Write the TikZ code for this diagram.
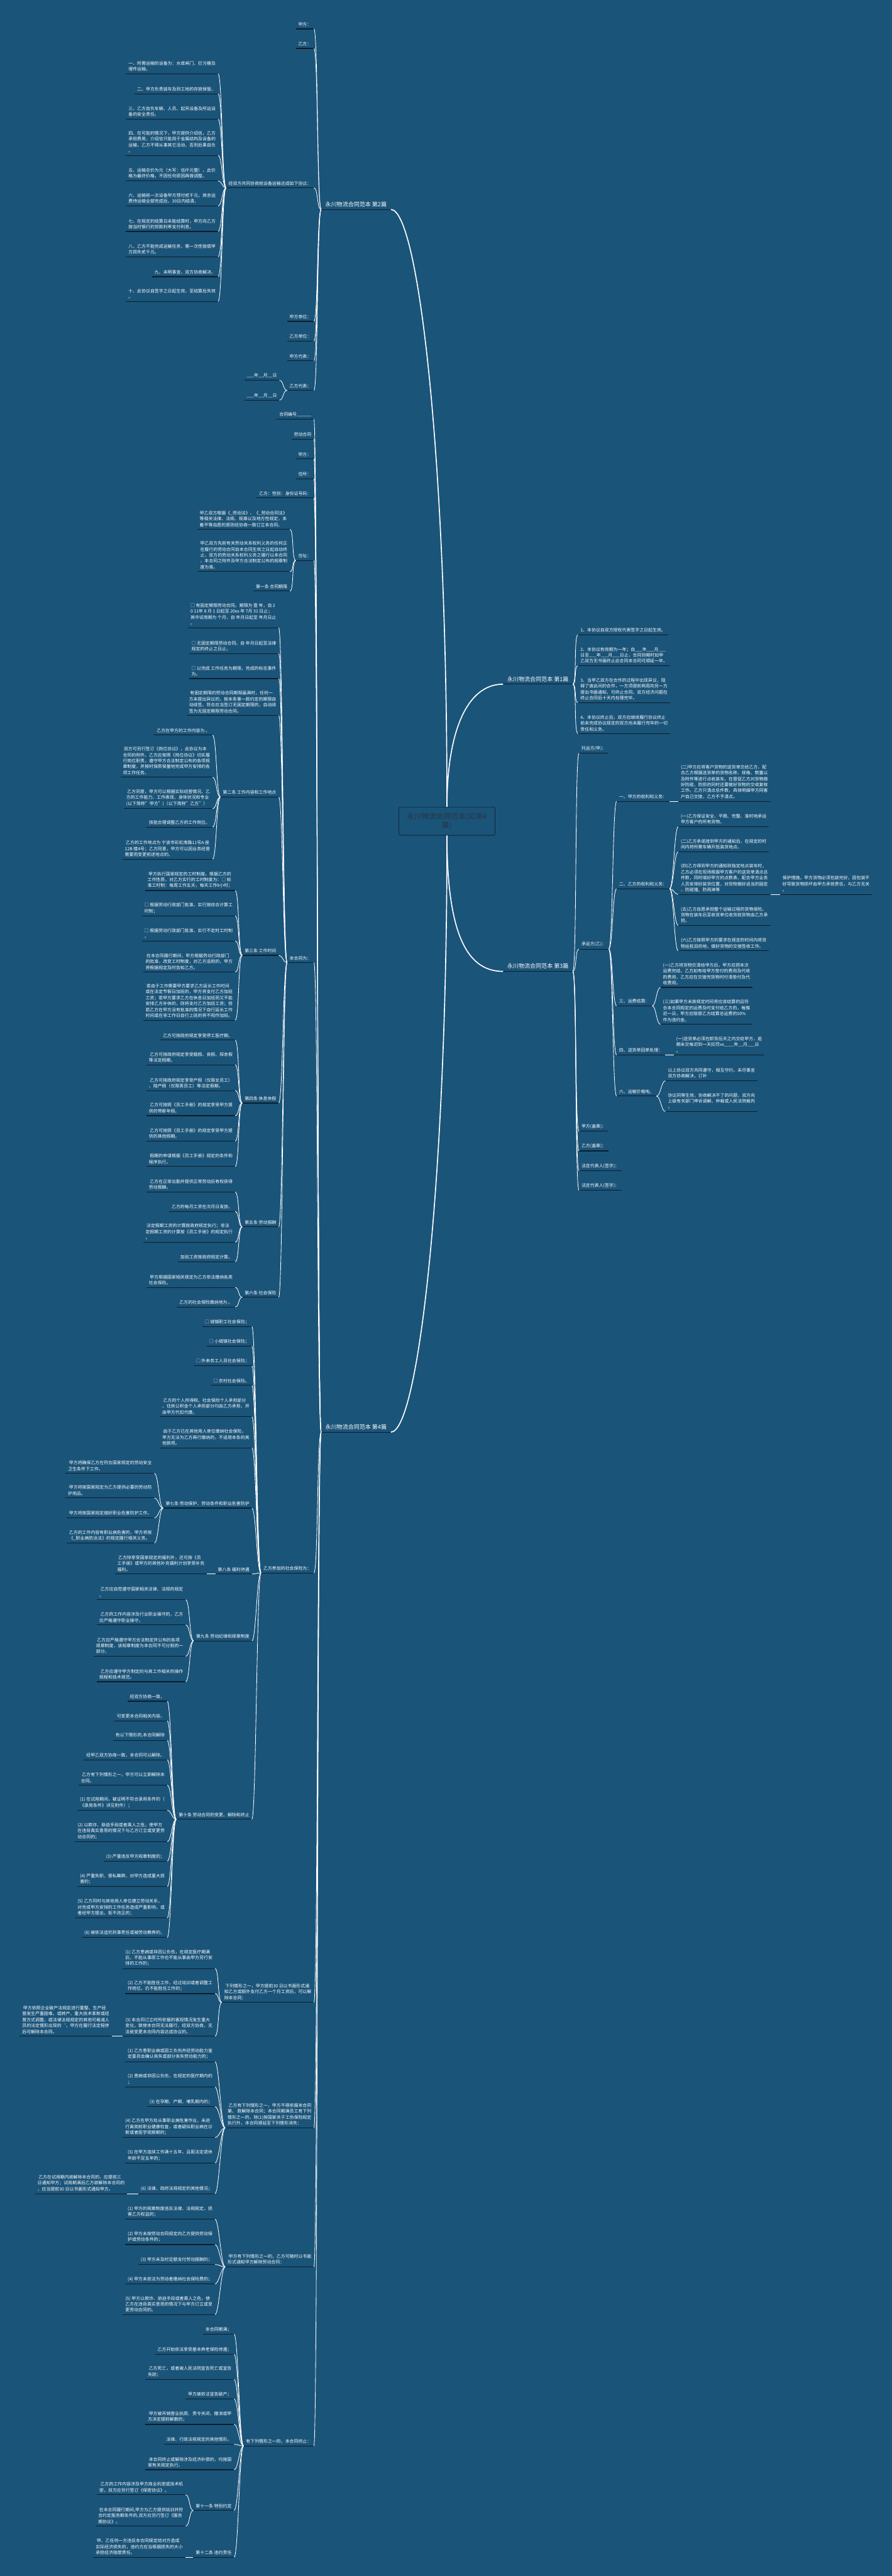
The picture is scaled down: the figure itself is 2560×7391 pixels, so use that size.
\documentclass[tikz,border=0pt]{standalone}
\usepackage{fontspec}
\setmainfont{Noto Sans CJK SC}
\definecolor{bg}{RGB}{27,84,121}
\definecolor{ulc}{RGB}{10,30,44}
\definecolor{roottext}{RGB}{40,52,64}
\definecolor{rootborder}{RGB}{12,38,58}
\tikzset{
  uline/.style={draw=ulc, line width=2pt},
  base/.style={text=white, font=\fontsize{12.5pt}{17pt}\selectfont, align=left, inner xsep=7pt, inner ysep=7pt,
    append after command={(\tikzlastnode.south west) edge[uline] (\tikzlastnode.south east)}},
  L/.style={base, anchor=south east},
  R/.style={base, anchor=south west},
  headL/.style={L, font=\fontsize{16.3pt}{20pt}\selectfont, inner xsep=12pt},
  headR/.style={R, font=\fontsize{16.3pt}{20pt}\selectfont, inner xsep=12pt},
  conn/.style={draw=white, line width=1.5pt},
  trunk/.style={draw=white, line width=3pt},
  rootbox/.style={draw=rootborder, line width=1.5pt, fill=bg, rounded corners=5pt, minimum width=276pt, minimum height=81pt, text=roottext, font=\fontsize{21pt}{26pt}\selectfont, align=center, inner sep=2pt}
}
\newcommand\lconn[2]{\draw[conn] (#1.south west) .. controls +(-12,0) and +(12,0) .. (#2.south east);}
\newcommand\rconn[2]{\draw[conn] (#1.south east) .. controls +(12,0) and +(-12,0) .. (#2.south west);}
\begin{document}
\begin{tikzpicture}[x=1pt,y=-1pt]
\fill[bg] (0,0) rectangle (2560,7391);
\useasboundingbox (0,0) rectangle (2560,7391);

% root
\node[rootbox] (root) at (1283,2356) {永川物流合同范本(实用4\\篇)};

% headings
\node[headL] (h2) at (1122,601) {永川物流合同范本 第2篇};
\node[headL] (h4) at (1122,4109) {永川物流合同范本 第4篇};
\node[headR] (h1) at (1444,1963) {永川物流合同范本 第1篇};
\node[headR] (h3) at (1444,2787) {永川物流合同范本 第3篇};

\draw[trunk] (root.north) .. controls (1283,1300) and (1200,601) .. (h2.south east);
\draw[trunk] (root.north) .. controls (1283,2100) and (1340,1963) .. (h1.south west);
\draw[trunk] (root.south) .. controls (1283,2700) and (1350,2787) .. (h3.south west);
\draw[trunk] (root.south) .. controls (1283,3400) and (1200,4109) .. (h4.south east);

% ===== 第2篇 =====
\node[L] (a1) at (901,83) {甲方：};
\node[L] (a2) at (901,139) {乙方：};
\node[L] (a3) at (901,539) {经双方共同协商就设备运输达成如下协议：};
\node[L] (a4) at (901,922) {甲方单位：};
\node[L] (a5) at (901,979) {乙方单位：};
\node[L] (a6) at (901,1035) {甲方代表：};
\node[L] (a7) at (901,1120) {乙方代表：};
\foreach \c in {a1,a2,a3,a4,a5,a6,a7}{\lconn{h2}{\c}}

\node[L] (a3a) at (626,212) {一、所需运输的设备为：水库闸门、拦污栅及\\埋件运输。};
\node[L] (a3b) at (626,269) {二、甲方负责装车及到工地的存放保管。};
\node[L] (a3c) at (626,342) {三、乙方自负车辆、人员、起吊设备及所运设\\备的安全责任。};
\node[L] (a3d) at (626,446) {四、在可能的情况下，甲方提供介绍信，乙方\\承担费用，介绍信只能用于金属结构及设备的\\运输，乙方不得从事其它活动，否则后果自负\\。};
\node[L] (a3e) at (626,519) {五、运输总价为元（大写：伍仟元整），此价\\格为最终价格，不因任何原因再做调整。};
\node[L] (a3f) at (626,591) {六、运输前一次设备甲方预付贰千元，其余运\\费待运输全部完成后，30日内结清。};
\node[L] (a3g) at (626,664) {七、在规定的结算日未能结算时，甲方向乙方\\按当时银行的贷款利率支付利息。};
\node[L] (a3h) at (626,737) {八、乙方不能完成运输任务，需一次性赔偿甲\\方损失贰千元。};
\node[L] (a3i) at (626,794) {九、未明事宜，双方协商解决。};
\node[L] (a3j) at (626,865) {十、此协议自签字之日起生效，至结算后失效\\。};
\foreach \c in {a3a,a3b,a3c,a3d,a3e,a3f,a3g,a3h,a3i,a3j}{\lconn{a3}{\c}}

\node[L] (a7a) at (802,1091) {\_\_\_年\_\_月\_\_日};
\node[L] (a7b) at (802,1148) {\_\_\_年\_\_月\_\_日};
\foreach \c in {a7a,a7b}{\lconn{a7}{\c}}

% ===== 第4篇 =====
\node[L] (b1) at (901,1203) {合同编号\_\_\_\_\_\_};
\node[L] (b2) at (901,1260) {劳动合同};
\node[L] (b3) at (901,1317) {甲方：};
\node[L] (b4) at (901,1374) {住所：};
\node[L] (b5) at (901,1429) {乙方：性别：身份证号码：};
\node[L] (b6) at (901,1608) {住址：};
\node[L] (b7) at (901,2762) {本合同为：};
\node[L] (b8) at (901,4513) {乙方参加的社会保险为：};
\node[L] (b9) at (901,5745) {~下列情形之一，甲方提前30 日以书面形式通\\知乙方或额外支付乙方一个月工资后，可以解\\除本合同：};
\node[L] (b10) at (901,6105) {~乙方有下列情形之一，甲方不得依据本合同\\第、 款解除本合同；本合同期满员工有下列\\情形之一的，除(1)按国家关于工伤保险规定\\执行外，本合同顺延至下列情形消失：};
\node[L] (b11) at (901,6504) {~甲方有下列情形之一的，乙方可随时以书面\\形式通知甲方解除劳动合同：};
\node[L] (b12) at (901,7018) {有下列情形之一的，本合同终止：};
\foreach \c in {b1,b2,b3,b4,b5,b6,b7,b8,b9,b10,b11,b12}{\lconn{h4}{\c}}

% 住址
\node[L] (b6a) at (832,1519) {甲乙双方根据《\_劳动法》、《\_劳动合同法》\\等相关法律、法规、规章以及地方性规定，本\\着平等自愿的原则经协商一致订立本合同。};
\node[L] (b6b) at (832,1640) {甲乙双方先前有关劳动关系权利义务的任何正\\在履行的劳动合同自本合同生效之日起自动终\\止，双方的劳动关系权利义务之履行以本合同\\、本合同之附件及甲方合法制定公布的规章制\\度为准。};
\node[L] (b6c) at (832,1696) {第一条 合同期限};
\foreach \c in {b6a,b6b,b6c}{\lconn{b6}{\c}}

% 本合同为
\node[L] (b7a) at (800,1801) {□ 有固定期限劳动合同。期限为 壹 年，自 2\\0 11年 8 月 1 日起至 20xx 年 7月 31 日止；\\其中试用期为 个月，自 年月日起至 年月日止\\。};
\node[L] (b7b) at (800,1875) {□ 无固定期限劳动合同。自 年月日起至法律\\规定的终止之日止。};
\node[L] (b7c) at (800,1947) {□ 以完成 工作任务为期限，完成的标志事件\\为。};
\node[L] (b7d) at (800,2053) {~有固定期限的劳动合同期限届满时，任何一\\方未提出异议的，按本条第一款约定的期限自\\动续签。符合应当签订无固定期限的，自动续\\签为无固定期限劳动合同。};
\node[L] (b7e) at (800,2287) {第二条 工作内容和工作地点};
\node[L] (b7f) at (800,2741) {第三条 工作时间};
\node[L] (b7g) at (800,3165) {第四条 休息休假};
\node[L] (b7h) at (800,3520) {第五条 劳动报酬};
\node[L] (b7i) at (800,3722) {第六条 社会保险};
\foreach \c in {b7a,b7b,b7c,b7d,b7e,b7f,b7g,b7h,b7i}{\lconn{b7}{\c}}

\node[L] (e1) at (610,2109) {乙方在甲方的工作内容为 。};
\node[L] (e2) at (610,2230) {~双方可另行签订《岗位协议》，此协议为本\\合同的附件。乙方应按照《岗位协议》切实履\\行岗位职责，遵守甲方合法制定公布的各项规\\章制度，并按时保质保量地完成甲方安排的各\\项工作任务。};
\node[L] (e3) at (610,2320) {~乙方同意，甲方可以根据实际经营情况、乙\\方的工作能力、工作表现、身体状况和专业\\(以下简称"甲方")（以下简称"乙方"）};
\node[L] (e4) at (610,2373) {技能合理调整乙方的工作岗位。};
\node[L] (e5) at (610,2465) {~乙方的工作地点为 宁波市彩虹南路11号A 座\\12B 楼4号；乙方同意，甲方可以因业务经营\\需要而变更前述地点的。};
\foreach \c in {e1,e2,e3,e4,e5}{\lconn{b7e}{\c}}

\node[L] (f1) at (675,2555) {~甲方执行国家规定的工时制度。根据乙方的\\工作性质，对乙方实行的工时制度为：□ 标\\准工时制：每周工作五天，每天工作8小时；};
\node[L] (f2) at (675,2628) {□ 根据劳动行政部门批准，实行按综合计算工\\时制；};
\node[L] (f3) at (675,2700) {□ 根据劳动行政部门批准，实行不定时工时制\\。};
\node[L] (f4) at (675,2789) {~在本合同履行期间，甲方根据劳动行政部门\\的批准，改变工时制度，对乙方适用的，甲方\\将根据规定及时告知乙方。};
\node[L] (f5) at (675,2927) {~若由于工作需要甲方要求乙方延长工作时间\\或在法定节假日加班的，甲方将支付乙方加班\\工资；若甲方要求乙方在休息日加班而又不能\\安排乙方补休的，则将支付乙方加班工资；但\\若乙方在甲方没有批准的情况下自行延长工作\\时间或在非工作日自行上班的将不视作加班。};
\foreach \c in {f1,f2,f3,f4,f5}{\lconn{b7f}{\c}}

\node[L] (g1) at (675,2984) {乙方可按政府规定享受停工医疗期。};
\node[L] (g2) at (675,3055) {~乙方可按政府规定享受婚假、丧假、探亲假\\等法定假期。};
\node[L] (g3) at (675,3129) {~乙方可按政府规定享受产假（仅限女员工）\\、陪产假（仅限男员工）等法定假期。};
\node[L] (g4) at (675,3201) {~乙方可按照《员工手册》的规定享受甲方提\\供的带薪年假。};
\node[L] (g5) at (675,3274) {~乙方可按照《员工手册》的规定享受甲方提\\供的其他假期。};
\node[L] (g6) at (675,3347) {~假期的申请根据《员工手册》规定的条件和\\程序执行。};
\foreach \c in {g1,g2,g3,g4,g5,g6}{\lconn{b7g}{\c}}

\node[L] (k1) at (675,3420) {~乙方在正常出勤并提供正常劳动后有权获得\\劳动报酬。};
\node[L] (k2) at (675,3476) {乙方的每月工资在次月日发放。};
\node[L] (k3) at (675,3564) {~法定假期工资的计算按政府规定执行；非法\\定假期工资的计算按《员工手册》的规定执行\\。};
\node[L] (k4) at (675,3620) {加班工资按政府规定计算。};
\foreach \c in {k1,k2,k3,k4}{\lconn{b7h}{\c}}

\node[L] (m1) at (675,3694) {~甲方根据国家相关规定为乙方依法缴纳各类\\社会保险。};
\node[L] (m2) at (675,3750) {乙方的社会保险缴纳地为 。};
\foreach \c in {m1,m2}{\lconn{b7i}{\c}}

% 社会保险为
\node[L] (b8a) at (723,3806) {□ 城镇职工社会保险；};
\node[L] (b8b) at (723,3862) {□ 小城镇社会保险；};
\node[L] (b8c) at (723,3919) {□ 外来务工人员社会保险；};
\node[L] (b8d) at (723,3975) {□ 农村社会保险。};
\node[L] (b8e) at (723,4065) {~乙方的个人所得税、社会保险个人承担部分\\、住房公积金个人承担部分均由乙方承担，并\\由甲方代扣代缴。};
\node[L] (b8f) at (723,4154) {~由于乙方已在其他用人单位缴纳社会保险，\\甲方无法为乙方再行缴纳的，不适用本条的其\\他款项。};
\node[L] (b8g) at (723,4327) {第七条 劳动保护、劳动条件和职业危害防护};
\node[L] (b8h) at (723,4516) {第八条 福利待遇};
\node[L] (b8i) at (723,4708) {第九条 劳动纪律和规章制度};
\node[L] (b8j) at (723,5220) {第十条 劳动合同的变更、解除和终止};
\foreach \c in {b8a,b8b,b8c,b8d,b8e,b8f,b8g,b8h,b8i,b8j}{\lconn{b8}{\c}}

\node[L] (n1) at (443,4227) {~甲方将确保乙方在符合国家规定的劳动安全\\卫生条件下工作。};
\node[L] (n2) at (443,4298) {~甲方将按国家规定为乙方提供必要的劳动防\\护用品。};
\node[L] (n3) at (443,4355) {甲方将按国家规定做好职业危害防护工作。};
\node[L] (n4) at (443,4427) {乙方的工作内容有职业病危害的，甲方将按\\《\_职业病防治法》的规定履行相关义务。};
\foreach \c in {n1,n2,n3,n4}{\lconn{b8g}{\c}}

\node[L] (p1) at (594,4516) {~乙方除享受国家规定的福利外，还可按《员\\工手册》或甲方的其他补充福利计划享受补充\\福利。};
\lconn{b8h}{p1}

\node[L] (q1) at (533,4590) {~乙方应自觉遵守国家相关法律、法规的规定\\。};
\node[L] (q2) at (533,4662) {~乙方的工作内容涉及行业职业操守的，乙方\\应严格遵守职业操守。};
\node[L] (q3) at (533,4752) {~乙方应严格遵守甲方合法制定并公布的各项\\规章制度，该规章制度为本合同不可分割的一\\部分。};
\node[L] (q4) at (533,4825) {~乙方应遵守甲方制定的与其工作相关的操作\\规程和技术规范。};
\foreach \c in {q1,q2,q3,q4}{\lconn{b8i}{\c}}

\node[L] (r1) at (480,4881) {经双方协商一致，};
\node[L] (r2) at (480,4937) {可变更本合同相关内容。};
\node[L] (r3) at (480,4993) {有以下情形的,本合同解除};
\node[L] (r4) at (480,5049) {经甲乙双方协商一致，本合同可以解除。};
\node[L] (r5) at (480,5122) {~乙方有下列情形之一，甲方可以立即解除本\\合同。};
\node[L] (r6) at (480,5194) {(1) 在试用期间，被证明不符合录用条件的（\\《录用条件》详见附件）；};
\node[L] (r7) at (480,5284) {(2) 以欺诈、胁迫手段或者乘人之危，使甲方\\在违背真实意思的情况下与乙方订立或变更劳\\动合同的；};
\node[L] (r8) at (480,5340) {(3) 严重违反甲方规章制度的；};
\node[L] (r9) at (480,5413) {(4) 严重失职、营私舞弊，对甲方造成重大损\\害的；};
\node[L] (r10) at (480,5503) {(5) 乙方同时与其他用人单位建立劳动关系，\\对完成甲方安排的工作任务造成严重影响，或\\者经甲方提出，拒不改正的；};
\node[L] (r11) at (480,5559) {(6) 被依法追究刑事责任或被劳动教养的。};
\foreach \c in {r1,r2,r3,r4,r5,r6,r7,r8,r9,r10,r11}{\lconn{b8j}{\c}}

% b9
\node[L] (s1) at (617,5648) {(1) 乙方患病或非因公负伤，在规定医疗期满\\后，不能从事原工作也不能从事由甲方另行安\\排的工作的；};
\node[L] (s2) at (617,5720) {(2) 乙方不能胜任工作，经过培训或者调整工\\作岗位，仍不能胜任工作的；};
\node[L] (s3) at (617,5842) {(3) 本合同订立时所依据的客观情况发生重大\\变化，致使本合同无法履行，经双方协商，无\\法就变更本合同内容达成协议的。};
\foreach \c in {s1,s2,s3}{\lconn{b9}{\c}}
\node[L] (s3x) at (321,5842) {~甲方依照企业破产法规定进行重整、生产经\\营发生严重困难，或转产、重大技术革新或经\\营方式调整，或法律法规规定的其他可裁减人\\员的法定情形出现的\symbol{96}，甲方在履行法定程序\\后可解除本合同。};
\lconn{s3}{s3x}

% b10
\node[L] (t1) at (617,5915) {(1) 乙方患职业病或因工负伤并经劳动能力鉴\\定委员会确认丧失或部分丧失劳动能力的；};
\node[L] (t2) at (617,5988) {(2) 患病或非因公负伤，在规定的医疗期内的\\；};
\node[L] (t3) at (617,6044) {(3) 在孕期、产期、哺乳期内的；};
\node[L] (t4) at (617,6133) {(4) 乙方在甲方处从事职业病危害作业，未进\\行离岗前职业健康检查，或者疑似职业病在诊\\断或者医学观察期的；};
\node[L] (t5) at (617,6206) {(5) 在甲方连续工作满十五年，且距法定退休\\年龄不足五年的；};
\node[L] (t6) at (617,6294) {(6) 法律、政府法规规定的其他情况；};
\foreach \c in {t1,t2,t3,t4,t5,t6}{\lconn{b10}{\c}}
\node[L] (t6x) at (365,6294) {~乙方在试用期内欲解除本合同的，应提前三\\日通知甲方；试用期满后乙方欲解除本合同的\\，应当提前30 日以书面形式通知甲方。};
\lconn{t6}{t6x}

% b11
\node[L] (u1) at (617,6367) {(1) 甲方的规章制度违反法律、法规规定，损\\害乙方权益的；};
\node[L] (u2) at (617,6440) {(2) 甲方未按劳动合同规定向乙方提供劳动保\\护或劳动条件的；};
\node[L] (u3) at (617,6497) {(3) 甲方未及时足额支付劳动报酬的；};
\node[L] (u4) at (617,6553) {(4) 甲方未依法为劳动者缴纳社会保险费的；};
\node[L] (u5) at (617,6641) {(5) 甲方以欺诈、胁迫手段或者乘人之危，使\\乙方在违背真实意思的情况下与甲方订立或变\\更劳动合同的。};
\foreach \c in {u1,u2,u3,u4,u5}{\lconn{b11}{\c}}

% b12
\node[L] (v1) at (672,6697) {本合同期满；};
\node[L] (v2) at (672,6755) {乙方开始依法享受基本养老保险待遇；};
\node[L] (v3) at (672,6827) {~乙方死亡，或者被人民法院宣告死亡或宣告\\失踪；};
\node[L] (v4) at (672,6883) {甲方被依法宣告破产；};
\node[L] (v5) at (672,6956) {~甲方被吊销营业执照、责令关闭、撤消或甲\\方决定提前解散的；};
\node[L] (v6) at (672,7013) {法律、行政法规规定的其他情形。};
\node[L] (v7) at (672,7086) {~本合同终止或解除涉及经济补偿的，均按国\\家有关规定执行。};
\node[L] (v8) at (672,7203) {第十一条 特别约定};
\node[L] (v9) at (672,7337) {第十二条 违约责任};
\foreach \c in {v1,v2,v3,v4,v5,v6,v7,v8,v9}{\lconn{b12}{\c}}
\node[L] (v8a) at (533,7158) {~乙方的工作内容涉及甲方商业机密或技术机\\密，双方应另行签订《保密协议》。};
\node[L] (v8b) at (533,7248) {~在本合同履行期间,甲方为乙方提供培训并符\\合约定服务期条件的,双方应另行签订《服务\\期协议》。};
\foreach \c in {v8a,v8b}{\lconn{v8}{\c}}
\node[L] (v9a) at (532,7337) {~甲、乙任何一方违反本合同规定给对方造成\\实际经济损失的，违约方应当根据损失的大小\\承担经济赔偿责任。};
\lconn{v9}{v9a}

% ===== 第1篇 =====
\node[R] (c1) at (1659,1821) {1、本协议自双方授权代表签字之日起生效。};
\node[R] (c2) at (1659,1910) {2、本协议有效期为一年；自\_\_\_年\_\_\_月\_\_\_\\日至\_\_\_年\_\_\_月\_\_\_日止，合同到期时如甲\\乙双方无书面终止此合同本合同可顺延一年。};
\node[R] (c3) at (1659,2016) {3、当甲乙双方在合作的过程中出现异议，阻\\碍了彼此间的合作，一方须提前两周向另一方\\提出书面通知，可终止合同。双方经济问题在\\终止合同后十天内处理完毕。};
\node[R] (c4) at (1659,2105) {4、本协议终止后，双方应继续履行协议终止\\前未完成协议规定的双方尚未履行完毕的一切\\责任和义务。};
\foreach \c in {c1,c2,c3,c4}{\rconn{h1}{\c}}

% ===== 第3篇 =====
\node[R] (d1) at (1662,2161) {托运方(甲)：};
\node[R] (d2) at (1662,2723) {承运方(乙)：};
\node[R] (d3) at (1662,3246) {甲方(盖章)：};
\node[R] (d4) at (1662,3302) {乙方(盖章)：};
\node[R] (d5) at (1662,3359) {法定代表人(签字)：};
\node[R] (d6) at (1662,3415) {法定代表人(签字)：};
\foreach \c in {d1,d2,d3,d4,d5,d6}{\rconn{h3}{\c}}

\node[R] (d21) at (1770,2299) {一、甲方的权利和义务：};
\node[R] (d22) at (1770,2550) {二、乙方的权利和义务：};
\node[R] (d23) at (1770,2886) {三、运费结算：};
\node[R] (d24) at (1770,3027) {四、送货单回单处理：};
\node[R] (d25) at (1770,3145) {六、运输价格吨。};
\foreach \c in {d21,d22,d23,d24,d25}{\rconn{d2}{\c}}

\node[R] (d21a) at (1947,2299) {(二)甲方应将客户货物的送货单交给乙方，配\\合乙方根据送货单的货物名称、规格、数量以\\及附件等进行点收装车。在督促乙方对货物做\\好防碰、防损的同时还要做好货物的交收复核\\工作。乙方只清点总件数，具体明细甲方同客\\户自己交接，乙方不予清点。};
\rconn{d21}{d21a}

\node[R] (w1) at (1947,2372) {(一)乙方保证安全、平稳、完整、准时地承运\\甲方客户的所有货物。};
\node[R] (w2) at (1947,2444) {(二)乙方承诺接到甲方的通知后，在规定的时\\间内将所需车辆开抵装货地点。};
\node[R] (w3) at (1947,2566) {(四)乙方得到甲方的通知到指定地点装车时，\\乙方必须在现场根据甲方客户的送货单清点总\\件数，同时填好甲方的点数表，配合甲方业务\\人员安排好装货位置，对货物做好适当的固定\\、防碰撞、防雨淋等};
\node[R] (w4) at (1947,2655) {(五)乙方自愿承担整个运输过程的货物保险。\\货物在装车后至收货单位收货前货物由乙方承\\担。};
\node[R] (w5) at (1947,2728) {(六)乙方按照甲方的要求在规定的时间内将货\\物运抵目的地，做好货物的交接签收工作。};
\foreach \c in {w1,w2,w3,w4,w5}{\rconn{d22}{\c}}
\node[R] (w3x) at (2239,2566) {保护措施。甲方货物必须包装完好，因包装不\\好导致货物损坏由甲方承担责任，与乙方无关\\。};
\rconn{w3}{w3x}

\node[R] (x1) at (1896,2833) {(一)乙方将货物交清给甲方后，甲方应把本次\\运费完结，乙方如有给甲方垫付的费用及代收\\的费用，乙方应在交接完货物时付清垫付及代\\收费用。};
\node[R] (x2) at (1896,2939) {(三)如果甲方未按规定时间将应该结算的且符\\合本合同规定的运费及时支付给乙方的，每推\\迟一日，甲方应赔偿乙方结算总运费的50\%\\作为违约金。};
\foreach \c in {x1,x2}{\rconn{d23}{\c}}

\node[R] (y1) at (1934,3027) {(一)送货单必须在卸货后天之内交给甲方，逾\\期未交每迟到一天扣罚xx\_\_\_\_年\_\_月\_\_\_日\\。};
\rconn{d24}{y1}

\node[R] (z1) at (1910,3101) {以上协议双方共同遵守，相互守约，未尽事宜\\双方协商解决，订补};
\node[R] (z2) at (1910,3189) {协议同等生效，协商解决不了的问题，双方向\\上级有关部门申诉调解、仲裁或人民法院裁判\\。};
\foreach \c in {z1,z2}{\rconn{d25}{\c}}

\end{tikzpicture}
\end{document}
